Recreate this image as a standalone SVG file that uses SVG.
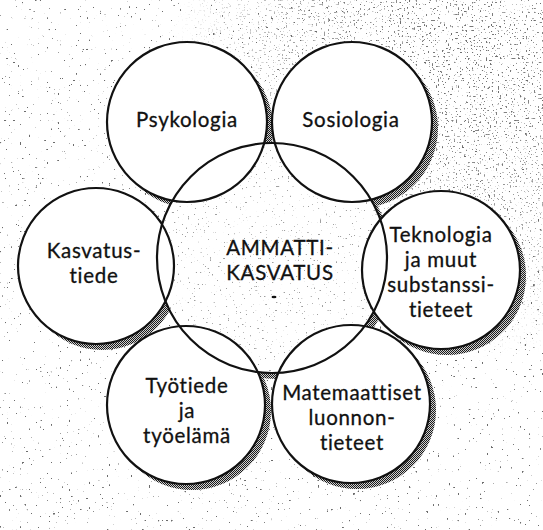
<svg xmlns="http://www.w3.org/2000/svg" width="543" height="530" viewBox="0 0 543 530">
  <defs>
    <style>
      .ring { fill: none; stroke: #111; stroke-width: 2.2; }
      .disk { fill: #fff; }
      .shadow { fill: url(#dither); }
      text { font-family: Lato, "Open Sans", "DejaVu Sans", sans-serif; font-size: 20.5px; letter-spacing: 0.7px; fill: #111; stroke: #111; stroke-width: 0.3; text-anchor: middle; }
    </style>
    <pattern id="dither" width="2" height="2" patternUnits="userSpaceOnUse">
      <rect x="0" y="0" width="2" height="2" fill="#cfcfcf"/>
      <rect x="0" y="0" width="1" height="1" fill="#1a1a1a"/>
      <rect x="1" y="1" width="1" height="1" fill="#1a1a1a"/>
    </pattern>
    <filter id="speck" x="0" y="0" width="543" height="530" filterUnits="userSpaceOnUse">
      <feTurbulence type="fractalNoise" baseFrequency="0.45" numOctaves="1" seed="7" result="n"/>
      <feColorMatrix in="n" type="matrix" values="0 0 0 0 0.15  0 0 0 0 0.15  0 0 0 0 0.15  26 0 0 0 -18.3"/>
    </filter>
    <filter id="speckLight" x="0" y="0" width="543" height="530" filterUnits="userSpaceOnUse">
      <feTurbulence type="fractalNoise" baseFrequency="0.5" numOctaves="1" seed="11" result="n"/>
      <feColorMatrix in="n" type="matrix" values="0 0 0 0 0.35  0 0 0 0 0.35  0 0 0 0 0.35  26 0 0 0 -18.5"/>
    </filter>
    <filter id="speckDense" x="0" y="0" width="543" height="530" filterUnits="userSpaceOnUse">
      <feTurbulence type="fractalNoise" baseFrequency="0.5" numOctaves="1" seed="23" result="n"/>
      <feColorMatrix in="n" type="matrix" values="0 0 0 0 0.15  0 0 0 0 0.15  0 0 0 0 0.15  26 0 0 0 -17.6"/>
    </filter>
    <radialGradient id="denseGrad" cx="470" cy="60" r="300" gradientUnits="userSpaceOnUse">
      <stop offset="0" stop-color="#fff" stop-opacity="1"/>
      <stop offset="0.6" stop-color="#fff" stop-opacity="0.6"/>
      <stop offset="1" stop-color="#fff" stop-opacity="0"/>
    </radialGradient>
    <mask id="denseMask" maskUnits="userSpaceOnUse" x="0" y="0" width="543" height="530">
      <rect x="0" y="0" width="543" height="530" fill="url(#denseGrad)"/>
    </mask>
    <clipPath id="centralClip">
      <circle cx="272" cy="258" r="115"/>
    </clipPath>
  </defs>

  <!-- background -->
  <rect x="0" y="0" width="543" height="530" fill="#fff"/>
  <rect x="0" y="0" width="543" height="530" filter="url(#speck)"/>
  <g mask="url(#denseMask)">
    <rect x="0" y="0" width="543" height="530" filter="url(#speckDense)"/>
  </g>

  <!-- shadows and white fills -->
  <g id="fills">
    <circle class="shadow" cx="193" cy="128" r="80"/>
    <circle class="shadow" cx="358" cy="128" r="80"/>
    <circle class="shadow" cx="102" cy="272" r="78"/>
    <circle class="shadow" cx="447" cy="276" r="79"/>
    <circle class="shadow" cx="192" cy="411" r="79"/>
    <circle class="shadow" cx="357" cy="410" r="79"/>
    <circle class="shadow" cx="278" cy="264" r="115"/>
    <circle class="disk" cx="272" cy="258" r="115"/>
    <g clip-path="url(#centralClip)">
      <rect x="150" y="140" width="250" height="240" filter="url(#speckLight)"/>
    </g>
    <circle class="disk" cx="187" cy="122" r="80"/>
    <circle class="disk" cx="352" cy="122" r="80"/>
    <circle class="disk" cx="96" cy="266" r="78"/>
    <circle class="disk" cx="441" cy="270" r="79"/>
    <circle class="disk" cx="186" cy="405" r="79"/>
    <circle class="disk" cx="351" cy="404" r="79"/>
  </g>

  <g id="connectors"></g>

  <g id="ammattikasvatus">
    <circle class="ring" cx="272" cy="258" r="115"/>
    <text x="280" y="255">AMMATTI-</text>
    <text x="280" y="280">KASVATUS</text>
    <ellipse cx="274" cy="297" rx="2.5" ry="1.3" fill="#111"/>
  </g>

  <g id="psykologia">
    <circle class="ring" cx="187" cy="122" r="80"/>
    <text x="187" y="127">Psykologia</text>
  </g>

  <g id="sosiologia">
    <circle class="ring" cx="352" cy="122" r="80"/>
    <text x="351" y="127">Sosiologia</text>
  </g>

  <g id="kasvatustiede">
    <circle class="ring" cx="96" cy="266" r="78"/>
    <text x="94" y="258">Kasvatus-</text>
    <text x="94" y="283">tiede</text>
  </g>

  <g id="teknologia">
    <circle class="ring" cx="441" cy="270" r="79"/>
    <text x="441" y="242">Teknologia</text>
    <text x="441" y="267">ja muut</text>
    <text x="441" y="292">substanssi-</text>
    <text x="441" y="317">tieteet</text>
  </g>

  <g id="tyotiede">
    <circle class="ring" cx="186" cy="405" r="79"/>
    <text x="187" y="393">Työtiede</text>
    <text x="187" y="418">ja</text>
    <text x="187" y="443">työelämä</text>
  </g>

  <g id="matemaattiset">
    <circle class="ring" cx="351" cy="404" r="79"/>
    <text x="352" y="400">Matemaattiset</text>
    <text x="352" y="425">luonnon-</text>
    <text x="352" y="450">tieteet</text>
  </g>
</svg>
